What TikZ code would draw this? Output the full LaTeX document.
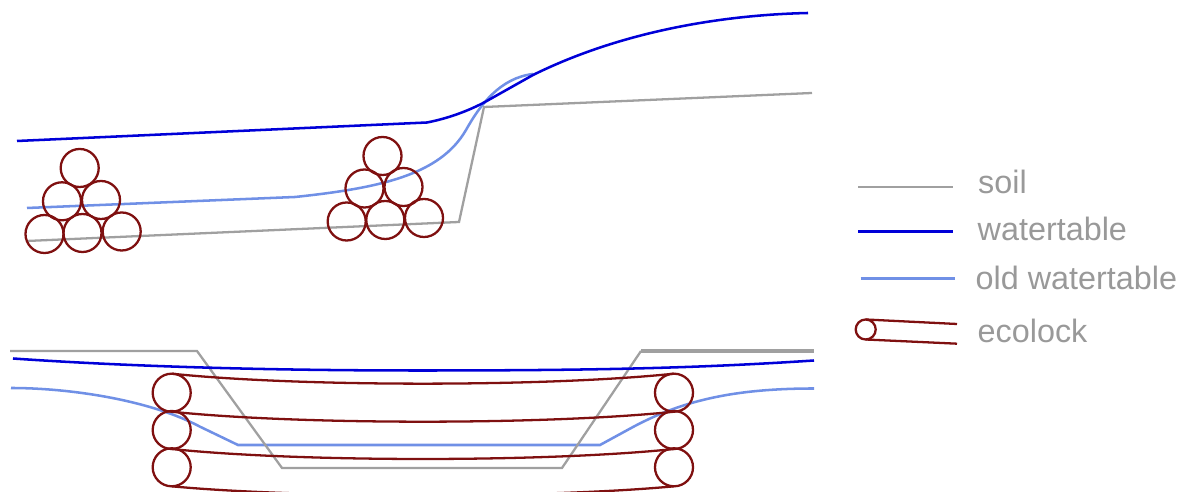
\documentclass[tikz,border=0pt]{standalone}
\usepackage{fontspec}
\setmainfont{Liberation Sans}
\usepackage{tikz}
\definecolor{soilgray}{HTML}{A0A0A0}
\definecolor{waterblue}{HTML}{0000D8}
\definecolor{oldblue}{HTML}{7090E6}
\definecolor{lockred}{HTML}{7F1010}
\definecolor{labelgray}{HTML}{999999}
\def\bend{13.3}
\tikzset{
    soil/.style={draw=soilgray, line width=0.65pt},
    water/.style={draw=waterblue, line width=0.72pt},
    oldwater/.style={draw=oldblue, line width=0.72pt},
    lockline/.style={draw=lockred, line width=0.65pt},
    lock/.style={draw=lockred, line width=0.65pt, circle, inner sep=0pt, outer sep=0pt, minimum size=0.38cm},
    legendlabel/.style={anchor=base west, inner sep=0pt, text=labelgray, font=\fontsize{9.2}{11}\selectfont}
}

\begin{document}
\begin{tikzpicture}[x=0.01cm, y=-0.01cm]
            \clip (0, 0) rectangle (1185, 492);

            % upper section
            \draw[oldwater] (27, 208) -- (295, 197) .. controls (380, 188) and (440, 175) .. (466, 130) .. controls (480, 105) and (500, 78) .. (533, 74);
            \draw[soil] (27, 241) -- (459, 222) -- (484, 107) -- (812, 93);
            \draw[water] (17, 141) -- (427, 122.5) .. controls (450, 118) and (470, 110) .. (485, 102) -- (533, 75) .. controls (620, 32) and (720, 15) .. (808, 13);

            \node[lock] (a1) at (79.7, 168) {};
            \node[lock] (a2) at (62, 201.3) {};
            \node[lock] (a3) at (101, 200) {};
            \node[lock] (a4) at (44.5, 234) {};
            \node[lock] (a5) at (82.5, 233) {};
            \node[lock] (a6) at (121.7, 231.5) {};

            \node[lock] (b1) at (382.5, 156) {};
            \node[lock] (b2) at (364.5, 188.5) {};
            \node[lock] (b3) at (403.5, 187) {};
            \node[lock] (b4) at (346.7, 221.5) {};
            \node[lock] (b5) at (385.3, 220) {};
            \node[lock] (b6) at (424, 218) {};

            % lower section
            \draw[oldwater] (11, 388) .. controls (70, 388) and (150, 400) .. (200, 426.7) -- (238, 445) -- (600, 445) -- (633, 427) .. controls (680, 402) and (730, 388.5) .. (814, 388.5);
            \draw[soil] (10, 351) -- (197, 351) -- (282, 468) -- (562, 468) -- (641, 351);
            \draw[soil, line width=0.9pt] (641, 351) -- (814, 351);
            \draw[water] (13, 358.5) .. controls (150, 368) and (300, 370.5) .. (420, 370.5) .. controls (600, 370.5) and (700, 368) .. (814, 360.5);

            \node[lock] (l1) at (171.7, 392.7) {};
            \node[lock] (l2) at (171.7, 430) {};
            \node[lock] (l3) at (171.7, 467.3) {};
            \node[lock] (r1) at (674, 392.7) {};
            \node[lock] (r2) at (674, 430) {};
            \node[lock] (r3) at (674, 467.3) {};

            \draw[lockline] (l1.north) .. controls +(128, \bend) and +(-128, \bend) .. (r1.north);
            \draw[lockline] (l1.south) .. controls +(128, \bend) and +(-128, \bend) .. (r1.south);
            \draw[lockline] (l2.south) .. controls +(128, \bend) and +(-128, \bend) .. (r2.south);
            \draw[lockline] (l3.south) .. controls +(128, 12) and +(-128, 12) .. (r3.south);

            % legend
            \coordinate (s1) at (858, 187);
            \coordinate (s2) at (953, 187);
            \coordinate (w1) at (858, 231.7);
            \coordinate (w2) at (953, 231.7);
            \coordinate (o1) at (860.5, 278.7);
            \coordinate (o2) at (955, 278.7);
            \coordinate (e1) at (957, 324);
            \coordinate (e2) at (957, 343.7);

            \draw[soil] (s1) -- (s2);
            \draw[water] (w1) -- (w2);
            \draw[oldwater] (o1) -- (o2);

            \node[lock, minimum size=0.2cm] (key) at (865.7, 329.5) {};
            \draw[lockline] (key.north) -- (e1);
            \draw[lockline] (key.south) -- (e2);

            \node[legendlabel] (soillabel) at (977.5, 194) {soil};
            \node[legendlabel] (waterlabel) at (977, 240.5) {watertable};
            \node[legendlabel] (oldlabel) at (975, 289.3) {old watertable};
            \node[legendlabel] (locklabel) at (977, 342.7) {ecolock};
        \end{tikzpicture}
\end{document}
